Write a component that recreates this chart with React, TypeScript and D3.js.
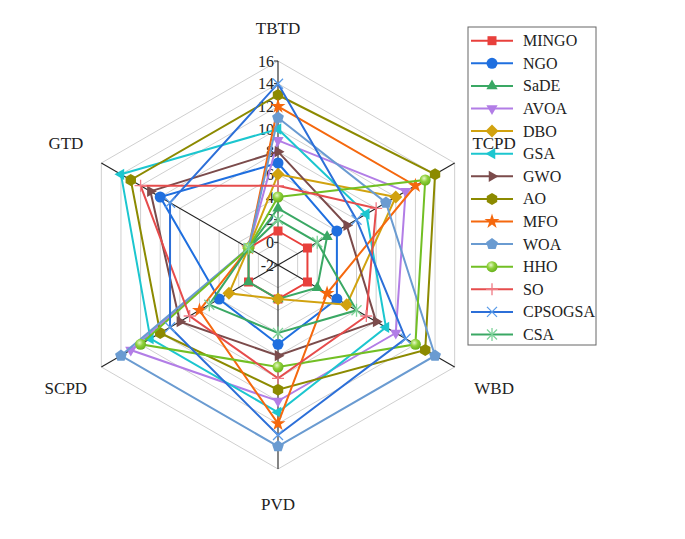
import React from 'react';
import * as d3 from 'd3';

const axes = ['TBTD', 'TCPD', 'WBD', 'PVD', 'SCPD', 'GTD'];
const tickValues = [-2, 0, 2, 4, 6, 8, 10, 12, 14, 16];

const seriesNames = ['MINGO', 'NGO', 'SaDE', 'AVOA', 'DBO', 'GSA', 'GWO', 'AO', 'MFO', 'WOA', 'HHO', 'SO', 'CPSOGSA', 'CSA'];
const MINGO = [1, 1, 1, 1, 1, 1];
const NGO = [7, 4, 4, 5, 4, 10];
const SaDE = [3, 3, 2, 1, 1, 1];
const AVOA = [9, 11, 10, 10, 13, 1];
const DBO = [6, 10, 5, 1, 3, 1];
const GSA = [10, 7, 9, 11, 11, 14];
const GWO = [8, 5, 8, 6, 8, 11];
const AO = [13, 14, 13, 9, 10, 13];
const MFO = [12, 12, 3, 12, 6, 1];
const WOA = [11, 9, 14, 14, 14, 1];
const HHO = [4, 13, 12, 7, 12, 1];
const SO = [5, 8, 7, 8, 7, 12];
const CPSOGSA = [14, 6, 11, 13, 9, 9];
const CSA = [2, 2, 6, 4, 5, 1];
const seriesValues = [MINGO, NGO, SaDE, AVOA, DBO, GSA, GWO, AO, MFO, WOA, HHO, SO, CPSOGSA, CSA];

const colors = ['#e8403c', '#1f6fdf', '#3aa864', '#b27de6', '#d1a20f', '#1cc6cf', '#7b4b4b', '#8c8a00', '#f5680e', '#6a9bd1', '#72bf24', '#e64c4c', '#2c6fd8', '#3aa864'];
const markerColors = ['#e8403c', '#1f6fdf', '#3aa864', '#b27de6', '#d1a20f', '#1cc6cf', '#7b4b4b', '#8c8a00', '#f5680e', '#6a9bd1', '#72bf24', '#f07a85', '#5a9be8', '#7fd39a'];
const markerTypes = ['square', 'circle', 'triUp', 'triDown', 'diamond', 'triLeft', 'triRight', 'hexagon', 'star', 'pentagon', 'sphere', 'plus', 'times', 'asterisk'];

const W = 685, H = 539;
const cx = 278, cy = 265, R = 204;

function polyPath(n: number, r: number, rot: number) {
  const pts: string[] = [];
  for (let i = 0; i < n; i++) {
    const a = rot + (i * 2 * Math.PI) / n;
    pts.push(`${(r * Math.sin(a)).toFixed(2)},${(-r * Math.cos(a)).toFixed(2)}`);
  }
  return 'M' + pts.join('L') + 'Z';
}

function Marker({ type, x, y, color }: { type: string; x: number; y: number; color: string }) {
  const t = `translate(${x},${y})`;
  switch (type) {
    case 'square':
      return <rect x={x - 4.5} y={y - 4.5} width={9} height={9} fill={color} />;
    case 'circle':
      return <circle cx={x} cy={y} r={5.5} fill={color} />;
    case 'sphere':
      return <circle cx={x} cy={y} r={5.5} fill="url(#hhoGrad)" />;
    case 'triUp':
      return <path transform={t} d={polyPath(3, 6.5, 0)} fill={color} />;
    case 'triDown':
      return <path transform={t} d={polyPath(3, 6.5, Math.PI)} fill={color} />;
    case 'triLeft':
      return <path transform={t} d={polyPath(3, 6.5, -Math.PI / 2)} fill={color} />;
    case 'triRight':
      return <path transform={t} d={polyPath(3, 6.5, Math.PI / 2)} fill={color} />;
    case 'diamond':
      return <path transform={t} d={polyPath(4, 6.5, 0)} fill={color} />;
    case 'hexagon':
      return <path transform={t} d={polyPath(6, 6, 0)} fill={color} />;
    case 'pentagon':
      return <path transform={t} d={polyPath(5, 6.2, 0)} fill={color} />;
    case 'star':
      return <path transform={t} d={d3.symbol(d3.symbolStar, 70)() || ''} fill={color} />;
    case 'plus':
      return <path transform={t} d="M-6,0L6,0M0,-6L0,6" stroke={color} strokeWidth={1.3} fill="none" />;
    case 'times':
      return <path transform={t} d="M-5,-5L5,5M-5,5L5,-5" stroke={color} strokeWidth={1.3} fill="none" />;
    case 'asterisk':
      return <path transform={t} d="M-5,-5L5,5M-5,5L5,-5M0,-6.5L0,6.5" stroke={color} strokeWidth={1.3} fill="none" />;
    default:
      return null;
  }
}

export default function App() {
  const r = d3.scaleLinear().domain([-2, 16]).range([0, R]);
  const angle = d3.scaleLinear().domain([0, axes.length]).range([0, 2 * Math.PI]);
  const pt = (i: number, v: number): [number, number] => {
    const a = angle(i);
    return [cx + r(v) * Math.sin(a), cy - r(v) * Math.cos(a)];
  };
  const line = d3.line<[number, number]>().curve(d3.curveLinearClosed);
  const serif = "'Liberation Serif', 'Times New Roman', serif";

  const legendX = 468, legendY = 27, legendW = 128, legendH = 318;
  const legendStep = 22.6;

  return (
    <svg width={W} height={H} style={{ position: 'absolute', left: 0, top: 0, background: '#fff' }} fontFamily={serif}>
      <defs>
        <radialGradient id="hhoGrad" cx="0.4" cy="0.35" r="0.7">
          <stop offset="0" stopColor="#e6f7c8" />
          <stop offset="0.45" stopColor="#8fd13a" />
          <stop offset="1" stopColor="#62ad18" />
        </radialGradient>
      </defs>
      {/* grid rings */}
      {tickValues.filter(v => v > -2).map(v => (
        <path key={'g' + v} d={line(axes.map((_, i) => pt(i, v))) || ''} fill="none" stroke="#cfcfcf" strokeWidth={1} />
      ))}
      {/* axes */}
      {axes.map((_, i) => {
        const [x, y] = pt(i, 16);
        return <line key={'ax' + i} x1={cx} y1={cy} x2={x} y2={y} stroke="#222" strokeWidth={1.1} />;
      })}
      {/* ticks on TBTD axis */}
      {tickValues.map(v => {
        const [x, y] = pt(0, v);
        return (
          <g key={'t' + v}>
            <line x1={x - 4} x2={x} y1={y} y2={y} stroke="#222" strokeWidth={1} />
            <text x={x - 4} y={y} textAnchor="end" dominantBaseline="central" fontSize={16} fill="#222">
              {v}
            </text>
          </g>
        );
      })}
      {/* series */}
      {seriesValues.map((vals, si) => (
        <g key={'s' + si}>
          <path d={line(vals.map((v, i) => pt(i, v))) || ''} fill="none" stroke={colors[si]} strokeWidth={2} strokeLinejoin="miter" />
          {vals.map((v, i) => {
            const [x, y] = pt(i, v);
            return <Marker key={i} type={markerTypes[si]} x={x} y={y} color={markerColors[si]} />;
          })}
        </g>
      ))}
      {/* legend */}
      <rect x={legendX} y={legendY} width={legendW} height={legendH} fill="#fff" stroke="#666" strokeWidth={1} />
      {seriesNames.map((name, si) => {
        const y = legendY + 13.7 + si * legendStep;
        return (
          <g key={'lg' + name}>
            <line x1={legendX + 3} x2={legendX + 45} y1={y} y2={y} stroke={colors[si]} strokeWidth={2} />
            <Marker type={markerTypes[si]} x={legendX + 24} y={y} color={markerColors[si]} />
            <text x={legendX + 55} y={y} dominantBaseline="central" fontSize={16} fill="#222">
              {name}
            </text>
          </g>
        );
      })}
      {/* axis labels (drawn above legend, as in the reference) */}
      {axes.map((name, i) => {
        const a = angle(i);
        const s = Math.sin(a);
        const lx = cx + 238 * s + (s > 0.1 ? 10 : s < -0.1 ? -6 : 0);
        const ly = cy - 238 * Math.cos(a) + (Math.abs(s) > 0.1 ? (Math.cos(a) > 0 ? -3 : 4) : 1);
        return (
          <text key={'l' + name} x={lx} y={ly} textAnchor="middle" dominantBaseline="central" fontSize={17} fill="#222">
            {name}
          </text>
        );
      })}
    </svg>
  );
}
